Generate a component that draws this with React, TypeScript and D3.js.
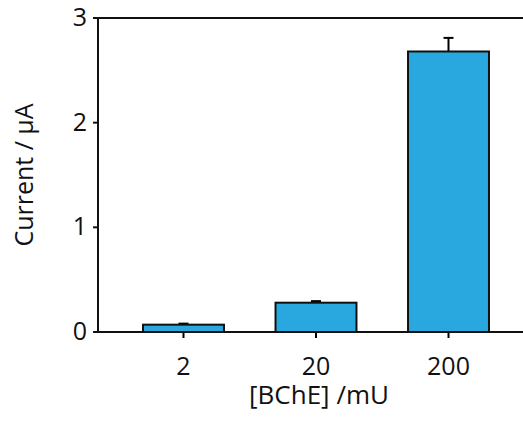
import React from "react";
import * as d3 from "d3";

const categories = ["2", "20", "200"];
const values = [0.07, 0.28, 2.68];
const errors = [0.01, 0.015, 0.13];
const yTicks = [0, 1, 2, 3];

export default function App() {
  const W = 523, H = 426;
  const left = 98, top = 18, bottom = 332, right = 523;
  const y = d3.scaleLinear().domain([0, 3]).range([bottom, top]);
  const x = d3.scaleBand<string>().domain(categories).range([117.25, 514.75]).paddingInner(0.389).paddingOuter(0.1945);
  const bw = x.bandwidth();
  const font = "'Open Sans', 'Noto Sans', sans-serif";
  const fs = 25;
  return (
    <svg width={W} height={H} style={{ position: "absolute", left: 0, top: 0, background: "#fff" }}>
      {categories.map((c, i) => {
        const x0 = x(c)!;
        const cx = x0 + bw / 2;
        const yv = y(values[i]);
        const ye = y(values[i] + errors[i]);
        return (
          <g key={c}>
            <line x1={cx} x2={cx} y1={yv} y2={ye} stroke="#000" strokeWidth={2} />
            <line x1={cx - 5} x2={cx + 5} y1={ye} y2={ye} stroke="#000" strokeWidth={2} />
            <rect x={x0} y={yv} width={bw} height={bottom - yv} fill="#29a8e0" stroke="#111" strokeWidth={2} />
            <line x1={cx} x2={cx} y1={bottom} y2={bottom + 6} stroke="#000" strokeWidth={2} />
            <text x={cx} y={375} textAnchor="middle" fontFamily={font} fontSize={fs} fill="#111">{c}</text>
          </g>
        );
      })}
      <line x1={left} x2={right} y1={top} y2={top} stroke="#111" strokeWidth={2} />
      <line x1={left} x2={right} y1={bottom} y2={bottom} stroke="#111" strokeWidth={2} />
      <line x1={left} x2={left} y1={top - 1} y2={bottom + 1} stroke="#111" strokeWidth={2} />
      {yTicks.map((t) => (
        <g key={t}>
          <line x1={left - 5} x2={left} y1={y(t)} y2={y(t)} stroke="#111" strokeWidth={2} />
          <text x={87} y={y(t) + 8} textAnchor="end" fontFamily={font} fontSize={fs} fill="#111">{t}</text>
        </g>
      ))}
      <text x={319} y={404} textAnchor="middle" fontFamily={font} fontSize={26} fill="#111">[BChE] /mU</text>
      <text transform={`translate(33,175) rotate(-90)`} textAnchor="middle" fontFamily={font} fontSize={fs} fill="#111">Current / µA</text>
    </svg>
  );
}
